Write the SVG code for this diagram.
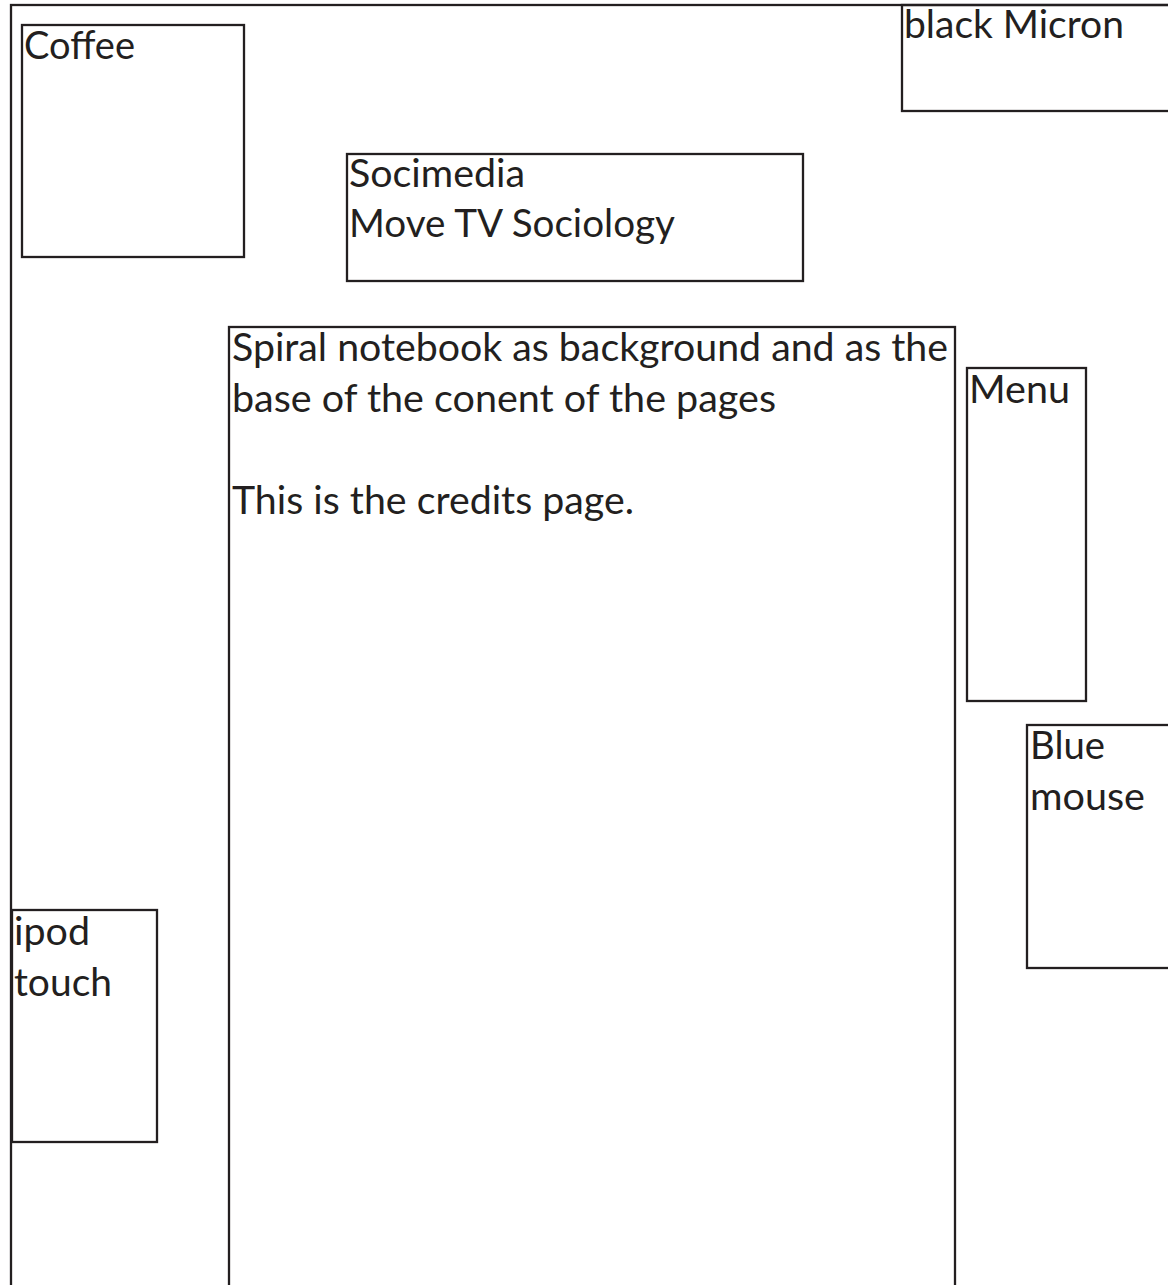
<svg xmlns="http://www.w3.org/2000/svg" width="1168" height="1285" viewBox="0 0 1168 1285">
<style>
.box{fill:none;stroke:#231f20;stroke-width:2.3}
.t{font-family:Lato,"Open Sans","Liberation Sans",sans-serif;font-size:38px;fill:#231f20}
</style>
<rect x="0" y="0" width="1168" height="1285" fill="#ffffff"/>
<g id="frame"><rect class="box" x="11" y="5" width="1200" height="1320"/></g>
<g id="coffee"><rect class="box" x="22" y="25" width="222" height="232"/><text class="t" x="24" y="59" textLength="111" lengthAdjust="spacingAndGlyphs">Coffee</text></g>
<g id="black-micron"><rect class="box" x="902" y="5" width="300" height="106"/><text class="t" x="904" y="38" textLength="220" lengthAdjust="spacingAndGlyphs">black Micron</text></g>
<g id="socimedia"><rect class="box" x="347" y="154" width="456" height="127"/><text class="t" x="349" y="187" textLength="176" lengthAdjust="spacingAndGlyphs">Socimedia</text><text class="t" x="349" y="237" textLength="326" lengthAdjust="spacingAndGlyphs">Move TV Sociology</text></g>
<g id="content"><rect class="box" x="229" y="327" width="726" height="1000"/><text class="t" x="232" y="361" textLength="716" lengthAdjust="spacingAndGlyphs">Spiral notebook as background and as the</text><text class="t" x="232" y="412" textLength="544" lengthAdjust="spacingAndGlyphs">base of the conent of the pages</text><text class="t" x="232" y="514" textLength="402" lengthAdjust="spacingAndGlyphs">This is the credits page.</text></g>
<g id="menu"><rect class="box" x="967" y="368" width="119" height="333"/><text class="t" x="969" y="403" textLength="101" lengthAdjust="spacingAndGlyphs">Menu</text></g>
<g id="blue-mouse"><rect class="box" x="1027" y="725" width="200" height="243"/><text class="t" x="1030" y="759" textLength="75" lengthAdjust="spacingAndGlyphs">Blue</text><text class="t" x="1030" y="810" textLength="115" lengthAdjust="spacingAndGlyphs">mouse</text></g>
<g id="ipod-touch"><rect class="box" x="12" y="910" width="145" height="232"/><text class="t" x="14" y="945" textLength="76" lengthAdjust="spacingAndGlyphs">ipod</text><text class="t" x="14" y="996" textLength="98" lengthAdjust="spacingAndGlyphs">touch</text></g>
<g id="connectors"/>
</svg>
